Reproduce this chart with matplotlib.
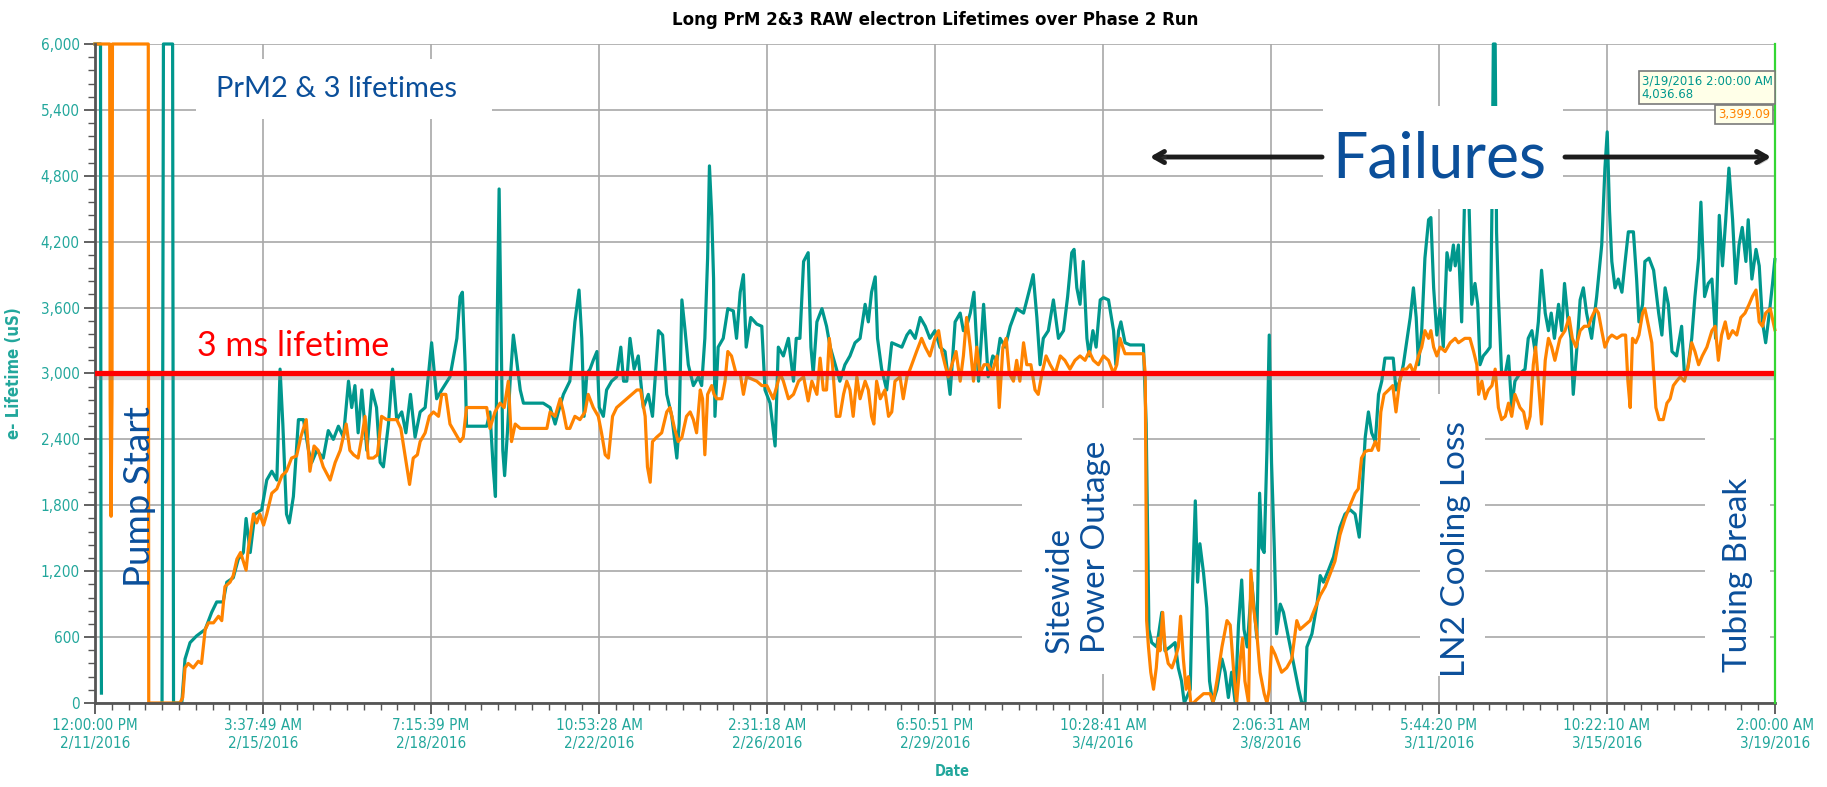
import numpy as np
import matplotlib.pyplot as plt
from matplotlib import patheffects as pe
from matplotlib.patches import Rectangle

nan = float('nan')

# --- datos: eje x en dias desde 2/11/2016 12:00 PM hasta 3/19/2016 2:00 AM ---
span_days = 878 / 24

date_labels = ['12:00:00 PM\n2/11/2016', '3:37:49 AM\n2/15/2016', '7:15:39 PM\n2/18/2016',
               '10:53:28 AM\n2/22/2016', '2:31:18 AM\n2/26/2016', '6:50:51 PM\n2/29/2016',
               '10:28:41 AM\n3/4/2016', '2:06:31 AM\n3/8/2016', '5:44:20 PM\n3/11/2016',
               '10:22:10 AM\n3/15/2016', '2:00:00 AM\n3/19/2016']
lifetime_ticks = list(range(0, 6001, 600))
threshold_us = 3000

# PrM 2 (teal)
teal_days = [0, 0.12, 0.13, 0.14, 0.16,
             1.46, 1.49, 1.69, 1.71, 1.89, 1.96, 2.07, 2.21, 2.40, 2.54,
             2.65, 2.79, 2.87, 3.01, 3.12, 3.23, 3.29, 3.38, 3.48, 3.63,
             3.74, 3.85, 3.96, 4.03, 4.09, 4.17, 4.23, 4.32, 4.43, 4.54,
             4.65, 4.72, 4.83, 4.97, 5.08, 5.19, 5.30, 5.41, 5.52, 5.59,
             5.66, 5.73, 5.81, 5.92, 6.03, 6.13, 6.21, 6.28, 6.39, 6.48,
             6.57, 6.68, 6.77, 6.87, 6.97, 7.08, 7.19, 7.33, 7.40, 7.44,
             7.55, 7.73, 7.88, 7.95, 8.00, 8.06, 8.09, 8.31, 8.53, 8.60,
             8.67, 8.72, 8.76, 8.80, 8.84, 8.88, 8.92, 8.98, 9.04, 9.11,
             9.17, 9.26, 9.33, 9.76, 9.91, 10.02, 10.09, 10.20, 10.34, 10.45,
             10.54, 10.60, 10.65, 10.71, 10.78, 10.85, 10.93, 10.98, 11.07, 11.14,
             11.25, 11.36, 11.45, 11.51, 11.58, 11.65, 11.74, 11.83, 11.94, 12.05,
             12.14, 12.27, 12.36, 12.45, 12.56, 12.67, 12.72, 12.78, 12.85, 12.92,
             13.03, 13.14, 13.21, 13.28, 13.34, 13.38, 13.43, 13.47, 13.50, 13.57,
             13.68, 13.78, 13.90, 13.97, 14.05, 14.12, 14.18, 14.28, 14.41, 14.52,
             14.59, 14.70, 14.81, 14.88, 14.99, 15.10, 15.21, 15.27, 15.35, 15.43,
             15.53, 15.59, 15.64, 15.72, 15.83, 15.93, 16.01, 16.12, 16.22, 16.33,
             16.44, 16.55, 16.66, 16.77, 16.84, 16.91, 16.99, 17.04, 17.13, 17.24,
             17.35, 17.46, 17.57, 17.68, 17.75, 17.86, 17.97, 18.08, 18.18, 18.29,
             18.40, 18.51, 18.62, 18.73, 18.84, 18.91, 18.98, 19.06, 19.14, 19.24,
             19.35, 19.45, 19.55, 19.64, 19.71, 19.82, 19.93, 20.07, 20.22, 20.36,
             20.43, 20.51, 20.58, 20.65, 20.76, 20.87, 20.98, 21.09, 21.18, 21.27,
             21.32, 21.38, 21.45, 21.52, 21.60, 21.65, 21.73, 21.80, 21.89, 21.96,
             22.07, 22.18, 22.23, 22.29, 22.34, 22.43, 22.54, 22.83, 22.89, 22.92,
             22.95, 23.01, 23.12, 23.23, 23.30, 23.41, 23.52, 23.59, 23.66, 23.72,
             23.85, 23.90, 23.96, 24.01, 24.06, 24.14, 24.21, 24.27, 24.34, 24.43,
             24.54, 24.61, 24.68, 24.75, 24.83, 24.90, 24.97, 25.02, 25.09, 25.19,
             25.30, 25.36, 25.41, 25.46, 25.52, 25.57, 25.62, 25.68, 25.73, 25.81,
             25.88, 25.99, 26.10, 26.21, 26.28, 26.35, 26.39, 26.50, 26.61, 26.68,
             26.75, 26.86, 26.97, 27.11, 27.22, 27.33, 27.44, 27.53, 27.58, 27.66,
             27.73, 27.80, 27.88, 27.95, 28.02, 28.09, 28.17, 28.27, 28.33, 28.41,
             28.49, 28.56, 28.64, 28.71, 28.77, 28.82, 28.89, 28.96, 29.04, 29.09,
             29.15, 29.22, 29.29, 29.36, 29.44, 29.51, 29.58, 29.62, 29.69, 29.76,
             29.83, 29.91, 29.98, 30.05, 30.11, 30.16, 30.23, 30.31, 30.38, 30.42,
             30.45, 30.49, 30.52, 30.56, 30.63, 30.71, 30.78, 30.85, 30.92, 31.03,
             31.14, 31.21, 31.29, 31.36, 31.43, 31.50, 31.58, 31.65, 31.71, 31.78,
             31.87, 31.94, 32.00, 32.07, 32.14, 32.19, 32.27, 32.34, 32.41, 32.48,
             32.59, 32.70, 32.81, 32.88, 32.93, 32.98, 33.03, 33.10, 33.17, 33.25,
             33.32, 33.39, 33.50, 33.57, 33.62, 33.70, 33.75, 33.84, 33.94, 34.05,
             34.12, 34.19, 34.26, 34.34, 34.44, 34.55, 34.61, 34.68, 34.77, 34.84,
             34.92, 34.97, 35.05, 35.13, 35.21, 35.29, 35.37, 35.44, 35.51, 35.58,
             35.66, 35.73, 35.80, 35.87, 35.95, 36.00, 36.08, 36.17, 36.24, 36.31,
             36.38, 36.46, 36.53, 36.58]
teal_us = [6000, 6000, 1560, 90, nan,
           0, 6000, 6000, 0, 0, 400, 550, 610, 670, 825,
           920, 920, 1100, 1140, 1310, 1370, 1680, 1370, 1720, 1760,
           2030, 2110, 2030, 3040, 2540, 1720, 1640, 1880, 2580, 2580,
           2300, 2190, 2300, 2230, 2480, 2400, 2520, 2420, 2930, 2690,
           2890, 2460, 2850, 2300, 2850, 2690, 2190, 2150, 2540, 3040,
           2580, 2650, 2460, 2810, 2420, 2650, 2690, 3280, 2960, 2770,
           2850, 2970, 3320, 3700, 3740, 3080, 2520, 2520, 2520, 2650,
           2150, 1880, 3510, 4680, 3510, 2300, 2070, 2460, 2930, 3350,
           3160, 2850, 2730, 2730, 2690, 2540, 2650, 2810, 2930, 3470,
           3760, 3320, 2610, 3000, 3040, 3120, 3200, 2690, 2610, 2850,
           2930, 2970, 3240, 2930, 2930, 3320, 3040, 3160, 2690, 2810,
           2610, 3390, 3350, 2810, 2610, 2230, 2540, 3670, 3390, 3080,
           2890, 2970, 2890, 3320, 4050, 4890, 4440, 3860, 2610, 3240,
           3320, 3590, 3570, 3320, 3740, 3900, 3240, 3510, 3450, 3430,
           2850, 2730, 2340, 3240, 3160, 3320, 2930, 3320, 3320, 4020,
           4100, 3240, 3000, 3470, 3590, 3430, 3240, 3080, 2930, 3080,
           3160, 3280, 3320, 3630, 3470, 3740, 3880, 3320, 3040, 2850,
           3280, 3260, 3240, 3350, 3390, 3320, 3510, 3430, 3320, 3390,
           3240, 3200, 2810, 3470, 3550, 3390, 3430, 3550, 3740, 2930,
           3630, 2970, 3160, 3120, 3320, 3240, 3430, 3590, 3550, 3780,
           3900, 3510, 3080, 3320, 3390, 3670, 3320, 3390, 3700, 4100,
           4130, 3780, 3630, 4020, 3320, 3160, 3390, 3240, 3670, 3690,
           3670, 3390, 3080, 3390, 3470, 3280, 3260, 3260, 2540, 1640,
           670, 550, 510, 825, 475, 510, 550, 320, 200, 0,
           125, 1060, 1840, 1100, 1450, 1180, 865, 200, 0, 125,
           400, 280, 50, 280, 0, 710, 1120, 670, 510, 1100,
           590, 1910, 1410, 1370, 2300, 3350, 2190, 1410, 630, 900,
           825, 590, 360, 125, 0, 0, 510, 630, 900, 1160,
           1100, 1210, 1330, 1600, 1720, 1760, 1720, 1510, 1840, 2420,
           2650, 2460, 2380, 2810, 2930, 3140, 3140, 3140, 2850, 2930,
           3080, 3280, 3510, 3780, 3510, 3080, 3390, 4050, 4400, 4420,
           3780, 3350, 3590, 3240, 4100, 3940, 4170, 3980, 4170, 3470,
           4700, 4700, 3630, 3820, 3630, 3080, 3160, 3200, 3240, 4520,
           6000, 6000, 4290, 3700, 3000, 3000, 3160, 2690, 2930, 3000,
           3040, 3320, 3390, 3200, 3470, 3940, 3550, 3390, 3550, 3320,
           3630, 3390, 3820, 3510, 3320, 2810, 3240, 3670, 3780, 3550,
           3320, 3700, 4170, 4870, 5200, 4480, 4020, 3780, 3860, 3740,
           4020, 4290, 4290, 3860, 3470, 3630, 4020, 4050, 3940, 3550,
           3350, 3780, 3630, 3200, 3160, 3430, 3000, 3040, 3320, 3700,
           4050, 4560, 3700, 3820, 3860, 3320, 4440, 3980, 4400, 4870,
           4400, 3820, 4170, 4330, 4020, 4400, 3860, 4130, 3980, 3470,
           3280, 3550, 3820, 4037]

# PrM 3 (naranja)
orange_days = [0, 0.32, 0.33, 0.35, 0.37, 0.38, 1.16, 1.17, 1.85, 1.91,
               1.96, 2.03, 2.14, 2.25, 2.32, 2.40, 2.47, 2.58, 2.69, 2.76,
               2.83, 2.94, 3.01, 3.09, 3.17, 3.23, 3.29, 3.34, 3.45, 3.52,
               3.59, 3.67, 3.74, 3.85, 3.96, 4.07, 4.17, 4.28, 4.39, 4.48,
               4.60, 4.68, 4.77, 4.86, 4.97, 5.12, 5.23, 5.34, 5.47, 5.55,
               5.63, 5.73, 5.81, 5.88, 5.95, 6.06, 6.15, 6.24, 6.35, 6.46,
               6.57, 6.66, 6.75, 6.85, 6.93, 7.02, 7.08, 7.19, 7.28, 7.37,
               7.48, 7.55, 7.64, 7.73, 7.84, 7.95, 8.02, 8.09, 8.53, 8.60,
               8.71, 8.82, 8.91, 9.00, 9.07, 9.15, 9.26, 9.84, 9.91, 10.02,
               10.13, 10.20, 10.27, 10.34, 10.45, 10.56, 10.67, 10.74, 10.85, 10.96,
               11.03, 11.11, 11.18, 11.27, 11.36, 11.47, 11.58, 11.69, 11.80, 11.88,
               11.98, 12.03, 12.09, 12.14, 12.23, 12.34, 12.45, 12.52, 12.62, 12.70,
               12.78, 12.88, 12.96, 13.03, 13.10, 13.18, 13.23, 13.28, 13.34, 13.43,
               13.48, 13.54, 13.65, 13.72, 13.78, 13.86, 13.96, 14.05, 14.12, 14.19,
               14.30, 14.41, 14.52, 14.63, 14.77, 14.85, 14.92, 14.99, 15.10, 15.21,
               15.32, 15.43, 15.53, 15.61, 15.72, 15.79, 15.86, 15.93, 15.99, 16.06,
               16.14, 16.22, 16.30, 16.37, 16.44, 16.51, 16.59, 16.66, 16.77, 16.84,
               16.91, 16.96, 17.02, 17.10, 17.20, 17.28, 17.35, 17.42, 17.53, 17.60,
               17.68, 17.75, 17.89, 18.00, 18.08, 18.18, 18.29, 18.37, 18.44, 18.51,
               18.58, 18.66, 18.75, 18.84, 18.91, 18.98, 19.06, 19.13, 19.20, 19.27,
               19.36, 19.45, 19.53, 19.64, 19.69, 19.77, 19.84, 19.91, 20.00, 20.07,
               20.14, 20.22, 20.29, 20.38, 20.47, 20.54, 20.62, 20.71, 20.80, 20.91,
               21.02, 21.12, 21.23, 21.34, 21.45, 21.56, 21.65, 21.74, 21.85, 21.96,
               22.07, 22.18, 22.25, 22.32, 22.38, 22.43, 22.83, 22.87, 22.89, 22.90,
               22.94, 22.99, 23.05, 23.11, 23.16, 23.19, 23.25, 23.30, 23.37, 23.45,
               23.52, 23.59, 23.64, 23.70, 23.76, 23.81, 23.86, 23.92, 23.99, 24.14,
               24.28, 24.35, 24.43, 24.54, 24.65, 24.72, 24.79, 24.86, 24.94, 24.99,
               25.04, 25.12, 25.17, 25.23, 25.30, 25.37, 25.46, 25.52, 25.57, 25.62,
               25.70, 25.77, 25.84, 25.95, 26.06, 26.17, 26.24, 26.35, 26.46, 26.57,
               26.68, 26.79, 26.90, 27.00, 27.11, 27.22, 27.33, 27.44, 27.51, 27.58,
               27.66, 27.73, 27.80, 27.88, 27.95, 28.00, 28.07, 28.17, 28.26, 28.33,
               28.41, 28.48, 28.56, 28.64, 28.72, 28.82, 28.89, 28.96, 29.04, 29.09,
               29.15, 29.22, 29.29, 29.40, 29.51, 29.62, 29.69, 29.83, 29.94, 30.02,
               30.09, 30.13, 30.20, 30.27, 30.34, 30.42, 30.49, 30.56, 30.63, 30.71,
               30.78, 30.85, 30.92, 31.03, 31.11, 31.18, 31.25, 31.32, 31.37, 31.43,
               31.50, 31.58, 31.65, 31.72, 31.79, 31.90, 32.01, 32.10, 32.17, 32.25,
               32.34, 32.43, 32.52, 32.59, 32.68, 32.74, 32.81, 32.88, 32.96, 33.03,
               33.14, 33.25, 33.33, 33.38, 33.43, 33.48, 33.55, 33.62, 33.70, 33.75,
               33.83, 33.90, 33.99, 34.06, 34.15, 34.23, 34.30, 34.37, 34.44, 34.52,
               34.61, 34.70, 34.77, 34.84, 34.92, 35.00, 35.10, 35.21, 35.28, 35.35,
               35.42, 35.50, 35.57, 35.66, 35.75, 35.84, 35.93, 36.02, 36.09, 36.17,
               36.24, 36.31, 36.38, 36.48, 36.58]
orange_us = [6000, 6000, 2770, 1700, 2770, 6000, 6000, 0, 0, 50,
             320, 360, 320, 380, 360, 670, 730, 730, 790, 750,
             1060, 1100, 1160, 1310, 1370, 1290, 1210, 1410, 1720, 1640,
             1720, 1620, 1720, 1910, 1950, 2070, 2110, 2230, 2250, 2420,
             2580, 2110, 2340, 2300, 2150, 2030, 2190, 2300, 2540, 2300,
             2260, 2230, 2420, 2610, 2230, 2230, 2260, 2610, 2580, 2580,
             2580, 2500, 2260, 1990, 2230, 2260, 2380, 2460, 2610, 2650,
             2610, 2810, 2810, 2540, 2460, 2380, 2420, 2690, 2690, 2500,
             2650, 2730, 2690, 2930, 2380, 2540, 2500, 2500, 2650, 2610,
             2770, 2650, 2500, 2500, 2610, 2580, 2650, 2810, 2690, 2610,
             2460, 2260, 2230, 2610, 2690, 2730, 2770, 2810, 2850, 2850,
             2610, 2150, 2010, 2380, 2420, 2460, 2650, 2690, 2500, 2380,
             2420, 2610, 2650, 2580, 2460, 2850, 2770, 2260, 2810, 2890,
             2810, 2770, 2770, 2930, 3200, 3160, 3000, 3000, 2810, 2970,
             2950, 2930, 2890, 2890, 2770, 2890, 3000, 2930, 2770, 2810,
             2930, 2970, 2750, 2930, 2810, 3140, 2850, 2850, 3320, 3080,
             2610, 2610, 2810, 2930, 2850, 2610, 2970, 2770, 2930, 2850,
             2610, 2540, 2930, 2770, 2850, 2610, 2650, 2930, 2970, 2770,
             2970, 3040, 3200, 3320, 3240, 3160, 3320, 3390, 3200, 3080,
             2970, 3080, 3200, 2930, 3160, 3510, 3240, 2930, 3240, 3000,
             3080, 3080, 3000, 3160, 2690, 3240, 3320, 3000, 2930, 3120,
             2930, 3280, 3080, 3080, 2850, 2810, 3000, 3160, 3080, 3000,
             3160, 3120, 3040, 3120, 3160, 3120, 3200, 3120, 3080, 3160,
             3120, 3000, 3080, 3320, 3240, 3180, 3180, 3000, 1640, 750,
             510, 280, 125, 320, 590, 475, 825, 510, 360, 320,
             400, 510, 790, 400, 125, 240, 0, 0, 30, 85,
             85, 10, 200, 510, 750, 710, 320, 0, 400, 590,
             200, 0, 1210, 865, 630, 280, 85, 0, 125, 510,
             440, 360, 280, 320, 400, 750, 670, 710, 750, 865,
             980, 1060, 1180, 1290, 1530, 1680, 1800, 1910, 1950, 2230,
             2290, 2300, 2300, 2380, 2300, 2650, 2810, 2850, 2890, 2650,
             2930, 3040, 3040, 3080, 3000, 3160, 3240, 3390, 3320, 3390,
             3240, 3160, 3240, 3200, 3280, 3320, 3280, 3320, 3320, 3200,
             3080, 2810, 2930, 2770, 2850, 2890, 3040, 2690, 2580, 2610,
             2730, 2610, 2810, 2690, 2650, 2500, 2610, 3080, 3240, 2930,
             2540, 3120, 3320, 3240, 3120, 3320, 3390, 3510, 3320, 3240,
             3390, 3430, 3430, 3510, 3590, 3550, 3390, 3240, 3320, 3350,
             3320, 3350, 3350, 2930, 2690, 3320, 3280, 3350, 3550, 3590,
             3430, 3280, 2690, 2580, 2580, 2730, 2770, 2890, 2930, 2970,
             2930, 3080, 3280, 3200, 3080, 3160, 3240, 3390, 3430, 3120,
             3350, 3470, 3320, 3390, 3350, 3510, 3550, 3630, 3700, 3760,
             3470, 3430, 3550, 3590, 3399]

# tooltip del cursor al final
cursor_label = '3/19/2016 2:00:00 AM'
cursor_teal = 4036.68
cursor_orange = 3399.09

# --- estilo ---
TEAL = '#00978d'
ORANGE = '#ff8300'
TICK_TEAL = '#22a79c'
BLUE = '#0b4f9a'
NARROW = ['Liberation Sans Narrow', 'DejaVu Sans']
CAL = ['Lato', 'DejaVu Sans']

fig = plt.figure(figsize=(18.27, 7.87), dpi=100)
ax = fig.add_axes([95 / 1827, 1 - 703 / 787, 1680 / 1827, 659 / 787])
ax.set_xlim(0, span_days)
ax.set_ylim(0, 6000)
ax.set_axisbelow(True)

ax.plot(teal_days, teal_us, color=TEAL, lw=2.3, clip_on=False, zorder=2)
ax.plot(orange_days, orange_us, color=ORANGE, lw=2.3, clip_on=False, zorder=2.1)

# linea de 3 ms
ax.axhline(threshold_us, color='#ff0000', lw=3.8, zorder=3,
           path_effects=[pe.SimpleLineShadow(offset=(0, -2.5), shadow_color='gray', alpha=0.35),
                         pe.Normal()])
# cursor verde
ax.axvline(span_days, color='#33d633', lw=1.6, zorder=3, clip_on=False)

# ejes
ax.set_xticks(np.linspace(0, span_days, len(date_labels)))
ax.set_xticklabels(date_labels)
ax.set_xticks(np.linspace(0, span_days, 101), minor=True)
ax.set_yticks(lifetime_ticks)
ax.set_yticklabels([f'{v:,}' for v in lifetime_ticks])
ax.set_yticks(np.arange(0, 6001, 120), minor=True)
ax.tick_params(which='major', length=8, width=1.3, color='#555555', labelcolor=TICK_TEAL,
               labelsize=11, pad=3)
ax.tick_params(which='minor', length=5, width=1.0, color='#555555')
for lab in ax.get_xticklabels() + ax.get_yticklabels():
    lab.set_family(NARROW)
    lab.set_stretch('condensed')
ax.grid(which='major', color='#a8a8a8', lw=1.2)
for s in ['top', 'right']:
    ax.spines[s].set_visible(False)
for s in ['left', 'bottom']:
    ax.spines[s].set_color('#555555')
    ax.spines[s].set_linewidth(2)

fig.text(935 / 1827, 1 - 20 / 787, 'Long PrM 2&3 RAW electron Lifetimes over Phase 2 Run',
         ha='center', va='center', fontsize=12, fontweight='bold', color='black')
fig.text(952 / 1827, 1 - 771 / 787, 'Date', ha='center', va='center', fontsize=10.5,
         fontweight='bold', color=TICK_TEAL, family=NARROW, stretch='condensed')
fig.text(14 / 1827, 1 - 373 / 787, 'e- Lifetime (uS)', ha='center', va='center', rotation=90,
         fontsize=12, fontweight='bold', color=TICK_TEAL, family=NARROW, stretch='condensed')

# --- cajas blancas detras de las anotaciones ---
for (x0, x1, y0, y1, z) in [(2.20, 8.65, 5320, 5860, 1.5),     # PrM2 & 3 lifetimes
                            (20.19, 22.60, 260, 2690, 1.5),    # Sitewide Power Outage
                            (28.85, 30.27, 250, 2810, 1.5),    # LN2 Cooling Loss
                            (35.06, 36.48, 250, 2500, 1.5),    # Tubing Break
                            (26.75, 31.97, 4500, 5440, 4.5)]:  # Failures
    ax.add_patch(Rectangle((x0, y0), x1 - x0, y1 - y0, fc='white', ec='none', zorder=z))

# --- anotaciones ---
ax.text(5.26, 5590, 'PrM2 & 3 lifetimes', color=BLUE, fontsize=21, family=CAL,
        ha='center', va='center', zorder=1.6)
ax.text(4.32, 3250, '3 ms lifetime', color='#ff0000', fontsize=24.5, family=CAL,
        ha='center', va='center', zorder=4)
ax.text(0.96, 1880, 'Pump Start', color=BLUE, fontsize=26.5, family=CAL, rotation=90,
        ha='center', va='center', zorder=4)
ax.text(21.41, 455, 'Sitewide\nPower Outage', color=BLUE, fontsize=24, family=CAL, rotation=90,
        ha='center', va='bottom', multialignment='left', linespacing=1.25, zorder=1.6)
ax.text(29.64, 240, 'LN2 Cooling Loss', color=BLUE, fontsize=24, family=CAL, rotation=90,
        ha='center', va='bottom', zorder=1.6)
ax.text(35.78, 280, 'Tubing Break', color=BLUE, fontsize=24, family=CAL, rotation=90,
        ha='center', va='bottom', zorder=1.6)
ax.text(29.27, 4950, 'Failures', color=BLUE, fontsize=45, family=CAL, ha='center', va='center',
        zorder=5)

arrow = dict(arrowstyle='->,head_length=0.7,head_width=0.4', lw=3.5, color='#1c1c1c',
             shrinkA=0, shrinkB=0,
             path_effects=[pe.SimplePatchShadow(offset=(1.5, -2), alpha=0.3), pe.Normal()])
ax.annotate('', xy=(22.97, 4971), xytext=(26.72, 4971), arrowprops=arrow, zorder=5)
ax.annotate('', xy=(36.50, 4971), xytext=(32.01, 4971), arrowprops=arrow, zorder=5)

# tooltip
ax.text(33.68, 5725, f'{cursor_label}\n{cursor_teal:,.2f}', color=TEAL, fontsize=8.5,
        ha='left', va='top', linespacing=1.05,
        bbox=dict(boxstyle='square,pad=0.25', fc='#ffffe8', ec='#7a7a7a', lw=1.2), zorder=6)
ax.text(36.48, 5362, f'{cursor_orange:,.2f}', color=ORANGE, fontsize=8.5,
        ha='right', va='center',
        bbox=dict(boxstyle='square,pad=0.25', fc='#ffffe8', ec='#7a7a7a', lw=1.2), zorder=6)

fig.savefig('out.png', dpi=100, facecolor='white')
